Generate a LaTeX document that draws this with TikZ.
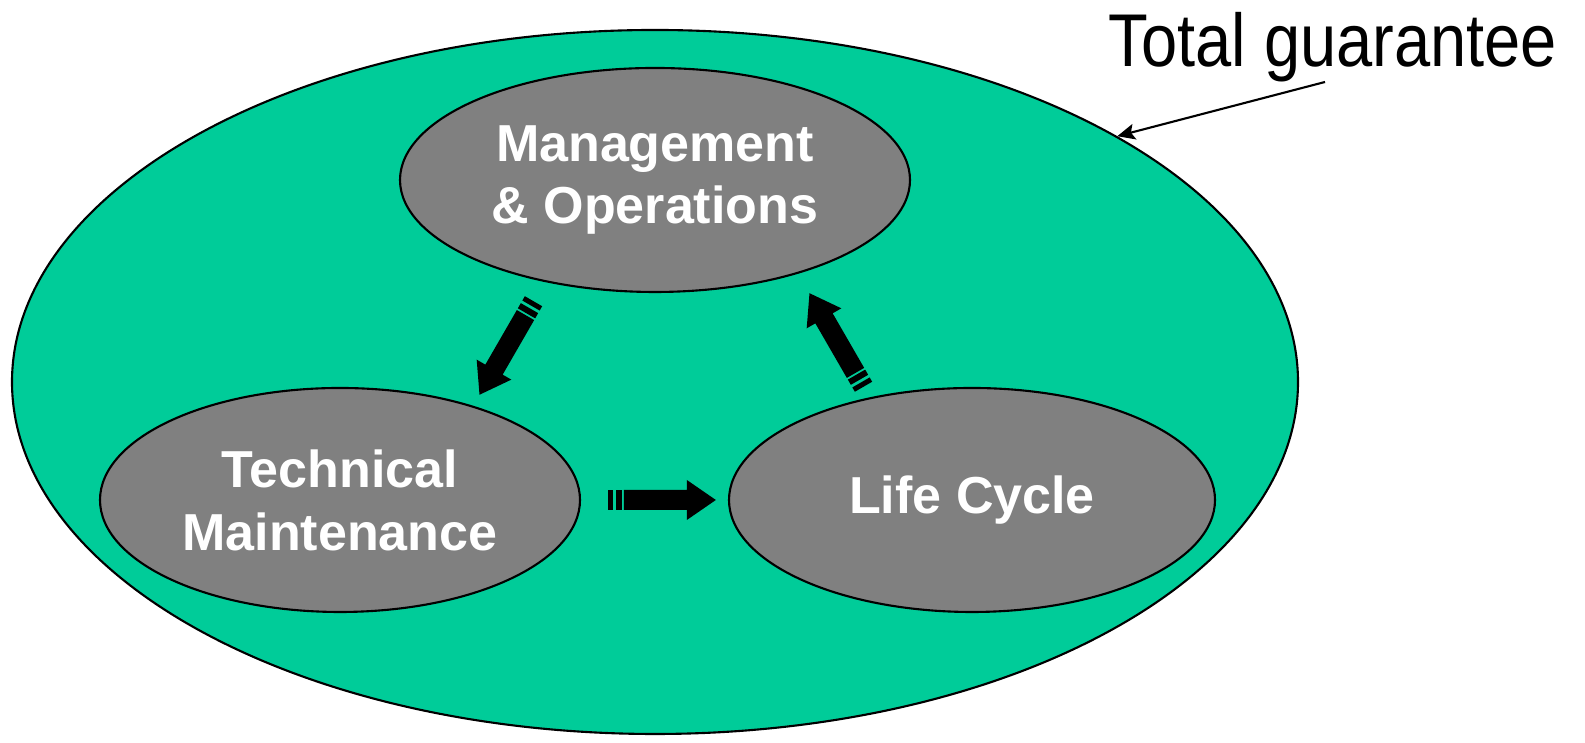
\documentclass[tikz,border=0pt]{standalone}
\usepackage{fontspec}
\setmainfont{Liberation Sans}
\usetikzlibrary{shapes.geometric, arrows.meta, calc, positioning}
\definecolor{guaranteegreen}{RGB}{0,204,153}
\definecolor{areagray}{RGB}{128,128,128}
\tikzstyle{outerarea} = [draw, ellipse, fill=guaranteegreen, line width=0.6pt, minimum width=12.86cm, minimum height=7.04cm, inner sep=0pt]
\tikzstyle{area} = [draw, ellipse, fill=areagray, line width=0.6pt, minimum height=2.24cm, inner sep=0pt, text=white, align=center, font=\fontsize{14.8}{17.9}\selectfont\bfseries]
\tikzstyle{pointerarrow} = [-{Stealth[length=5pt,width=4.5pt,inset=1pt]}, line width=0.6pt]
\tikzset{
  blockarrow/.pic={
    \fill (-0.54,-0.10) rectangle (-0.49,0.10);
    \fill (-0.46,-0.10) rectangle (-0.40,0.10);
    \fill (-0.38,-0.10) -- (0.25,-0.10) -- (0.25,-0.20) -- (0.54,0) -- (0.25,0.20) -- (0.25,0.10) -- (-0.38,0.10) -- cycle;
  }
}
\begin{document}
\begin{tikzpicture}
	\useasboundingbox (0,0) rectangle (15.85,7.43);
	\node (total) [outerarea] at (6.55,3.61) {};
	\node (mgmt) [area, minimum width=5.1cm] at (6.55,5.63) {Management\\\& Operations};
	\node (tech) [area, minimum width=4.8cm] at (3.40,2.43) {Technical\\Maintenance};
	\node (life) [area, minimum width=4.86cm] at (9.72,2.43) {Life Cycle};
	\node (guarantee) [anchor=base, font=\fontsize{18.5}{21}\selectfont, yscale=1.15, transform shape] at (13.33,6.76) {Total guarantee};
	\coordinate (pointer) at (13.25,6.61);
	\draw [pointerarrow] (pointer) -- (total.28.6);
	% cycle of block arrows
	\pic [rotate=-120] at ($(mgmt)!0.5!(tech)+(0.09,-0.08)$) {blockarrow};
	\pic at ($(tech.east)!0.55!(life.west)$) {blockarrow};
	\pic [rotate=120] at ($(mgmt)!0.5!(life)+(0.23,0)$) {blockarrow};
\end{tikzpicture}
\end{document}
